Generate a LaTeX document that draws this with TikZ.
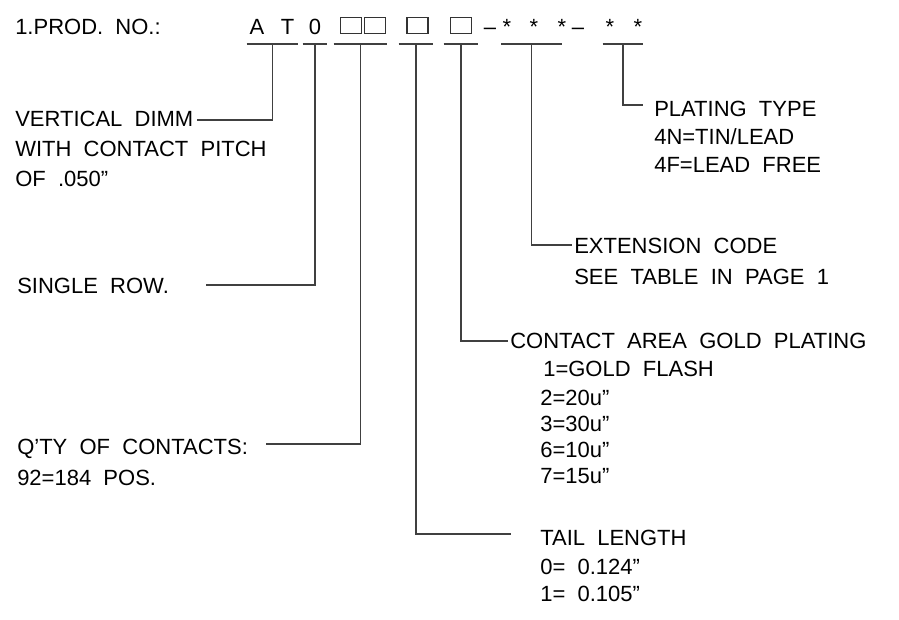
\documentclass[tikz,border=0pt]{standalone}
\usepackage{fontspec}
\setmainfont{Liberation Sans}
\newcommand\lblfont{\fontsize{16.5pt}{19pt}\selectfont}
\begin{document}
\begin{tikzpicture}[x=0.75pt,y=-0.75pt,
  lbl/.style={anchor=base west, inner sep=0pt, font=\lblfont, text=black},
  glyph/.style={anchor=base, inner sep=0pt, font=\lblfont, text=black},
  cbox/.style={draw=black!80, line width=0.9pt, inner sep=0pt, minimum width=15.75pt, minimum height=12.4pt},
  uline/.style={inner sep=0pt, minimum height=0pt, minimum width=#1*0.75pt},
  ln/.style={draw=black!75, line width=0.9pt}]
\fill[white] (0,0) rectangle (899,619);
\useasboundingbox (0,0) rectangle (899,619);

% title row
\node[lbl] (title) at (15,34) {1.PROD.~~NO.:};
\node[glyph] (cA) at (257,34) {A};
\node[glyph] (cT) at (287.5,34) {T};
\node[glyph] (c0) at (315,34) {0};
\node[cbox] (b1) at (351.3,25.5) {};
\node[cbox] (b2) at (374.6,25.5) {};
\node[cbox] (b3) at (417.5,25.5) {};
\node[cbox] (b4) at (461,25.5) {};
\node[glyph] (d1) at (490,34) {–};
\node[glyph] (s1) at (507,34) {*};
\node[glyph] (s2) at (534,34) {*};
\node[glyph] (s3) at (562,34) {*};
\node[glyph] (d2) at (578,34) {–};
\node[glyph] (s4) at (610,34) {*};
\node[glyph] (s5) at (638,34) {*};

% underlines
\node[uline=51] (u1) at (272.5,44) {};
\node[uline=24] (u2) at (315,44) {};
\node[uline=53] (u3) at (360.5,44) {};
\node[uline=34] (u4) at (416,44) {};
\node[uline=34] (u5) at (461,44) {};
\node[uline=60] (u6) at (531.5,44) {};
\node[uline=40] (u7) at (623,44) {};
\foreach \u in {u1,u2,u3,u4,u5,u6,u7}{\draw[ln] (\u.west) -- (\u.east);}

% left labels
\node[lbl] (vd1) at (15,126) {VERTICAL~~DIMM};
\node[lbl] (vd2) at (15,156) {WITH~~CONTACT~~PITCH};
\node[lbl] (vd3) at (15,186) {OF~~.050”};
\node[lbl] (sr) at (17,293) {SINGLE~~ROW.};
\node[lbl] (q1) at (17,454) {Q’TY~~OF~~CONTACTS:};
\node[lbl] (q2) at (17,485) {92=184~~POS.};

% right labels
\node[lbl] (pt1) at (654,116) {PLATING~~TYPE};
\node[lbl] (pt2) at (654,144) {4N=TIN/LEAD};
\node[lbl] (pt3) at (654,172.5) {4F=LEAD~~FREE};
\node[lbl] (ex1) at (574,253) {EXTENSION~~CODE};
\node[lbl] (ex2) at (574,284) {SEE~~TABLE~~IN~~PAGE~~1};
\node[lbl] (ca1) at (510,348) {CONTACT~~AREA~~GOLD~~PLATING};
\node[lbl] (ca2) at (543,376) {1=GOLD~~FLASH};
\node[lbl] (ca3) at (540,405) {2=20u”};
\node[lbl] (ca4) at (540,431) {3=30u”};
\node[lbl] (ca5) at (540,457) {6=10u”};
\node[lbl] (ca6) at (540,483) {7=15u”};
\node[lbl] (tl1) at (540,545) {TAIL~~LENGTH};
\node[lbl] (tl2) at (540,574) {0=~~0.124”};
\node[lbl] (tl3) at (540,601) {1=~~0.105”};

% leader ends
\coordinate (e1) at (197,120);
\coordinate (e2) at (206,285);
\coordinate (e3) at (266,444);
\coordinate (e4) at (511,534);
\coordinate (e5) at (508,341);
\coordinate (e6) at (572,245);
\coordinate (e7) at (643,105);
\draw[ln] (u1.center) |- (e1);
\draw[ln] (u2.center) |- (e2);
\draw[ln] (u3.center) |- (e3);
\draw[ln] (u4.center) |- (e4);
\draw[ln] (u5.center) |- (e5);
\draw[ln] (u6.center) |- (e6);
\draw[ln] (u7.center) |- (e7);
\end{tikzpicture}
\end{document}
